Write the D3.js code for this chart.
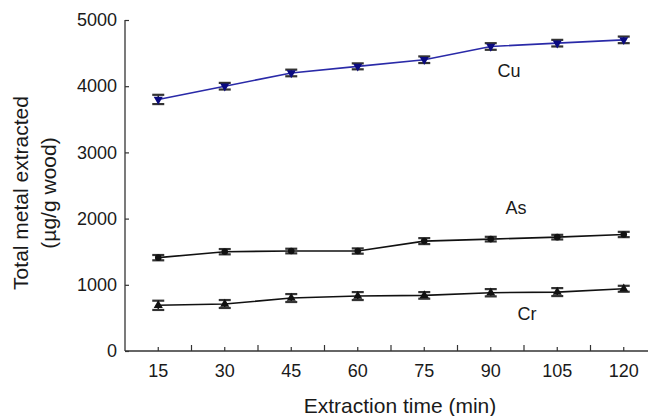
<!DOCTYPE html>
<html lang="en">
<head>
    <title>Total metal extracted</title>
    <script src="https://d3js.org/d3.v7.min.js"></script>
    <style>
        body { margin: 0; background: #fff; }
        text { font-family: Arial, "Liberation Sans", sans-serif; fill: #1a1a1a; }
    </style>
</head>
<body>
    <div id="chart"></div>

    <script>
        // Data for the chart
        const times = ["15", "30", "45", "60", "75", "90", "105", "120"];
        const cu = [3800, 4000, 4200, 4300, 4400, 4600, 4650, 4700];
        const cuErr = [70, 50, 50, 45, 50, 50, 50, 50];
        const as = [1410, 1500, 1510, 1510, 1660, 1690, 1720, 1760];
        const asErr = [40, 40, 35, 40, 45, 35, 35, 40];
        const cr = [690, 710, 800, 830, 840, 880, 890, 940];
        const crErr = [70, 60, 60, 60, 50, 55, 60, 45];
        const yTicks = [0, 1000, 2000, 3000, 4000, 5000];

        const width = 648;
        const height = 416;
        const plotLeft = 125, plotTop = 20, plotBottom = 351;

        const svg = d3.select("#chart")
            .append("svg")
            .attr("width", width)
            .attr("height", height);

        // Scales
        const x = d3.scaleBand()
            .domain(times)
            .range([plotLeft, plotLeft + 8 * 66.5])
            .padding(0);

        const y = d3.scaleLinear()
            .domain([0, 5000])
            .range([plotBottom, plotTop]);

        const cx = d => x(d) + x.bandwidth() / 2;

        // x axis: short ticks at categories, longer ticks between them
        const xAxis = svg.append("g")
            .attr("transform", `translate(0, ${plotBottom})`)
            .call(d3.axisBottom(x).tickSize(-4).tickPadding(13));
        xAxis.select(".domain").attr("d", `M${plotLeft},0H${width}`);
        xAxis.selectAll("line").attr("stroke", "#333").attr("stroke-width", 1.2);
        xAxis.selectAll("text").style("font-size", "18px").attr("dy", "0.71em").attr("fill", "#1a1a1a");
        xAxis.selectAll(".between")
            .data(times)
            .enter()
            .append("line")
            .attr("x1", d => x(d) + x.bandwidth())
            .attr("x2", d => x(d) + x.bandwidth())
            .attr("y1", 0)
            .attr("y2", -6)
            .attr("stroke", "#333")
            .attr("stroke-width", 1.2);

        // y axis
        const yAxis = svg.append("g")
            .attr("transform", `translate(${plotLeft}, 0)`)
            .call(d3.axisLeft(y).tickValues(yTicks).tickSize(-4).tickPadding(8).tickFormat(d3.format("d")));
        yAxis.select(".domain").attr("d", `M0,${plotBottom}V${plotTop}`);
        yAxis.selectAll("line").attr("stroke", "#333").attr("stroke-width", 1.2);
        yAxis.selectAll("text").style("font-size", "18px").attr("fill", "#1a1a1a");
        svg.selectAll(".domain").attr("stroke", "#333").attr("stroke-width", 1.3);

        // Axis titles
        svg.append("text")
            .attr("x", 400)
            .attr("y", 413)
            .attr("text-anchor", "middle")
            .style("font-size", "21px")
            .text("Extraction time (min)");

        const yTitle = svg.append("text")
            .attr("transform", "translate(28, 193) rotate(-90)")
            .attr("text-anchor", "middle")
            .style("font-size", "21px");
        yTitle.append("tspan").attr("x", 0).attr("y", 0).text("Total metal extracted");
        yTitle.append("tspan").attr("x", 0).attr("y", 28).text("(µg/g wood)");

        // Series
        const series = [
            { name: "Cu", values: cu, err: cuErr, line: "#2a2aa8", mark: "#0a0a80", symbol: d3.symbolTriangle, rot: 180, lx: 509, ly: 71 },
            { name: "As", values: as, err: asErr, line: "#111", mark: "#111", symbol: d3.symbolCircle, rot: 0, lx: 516, ly: 208 },
            { name: "Cr", values: cr, err: crErr, line: "#111", mark: "#111", symbol: d3.symbolTriangle, rot: 0, lx: 527, ly: 314 }
        ];

        const line = d3.line()
            .x((d, i) => cx(times[i]))
            .y(d => y(d));

        series.forEach(s => {
            const g = svg.append("g");

            g.append("path")
                .datum(s.values)
                .attr("d", line)
                .attr("fill", "none")
                .attr("stroke", s.line)
                .attr("stroke-width", 1.6);

            // Error bars
            const eb = g.selectAll(".eb")
                .data(s.values)
                .enter()
                .append("g");
            eb.append("line")
                .attr("x1", (d, i) => cx(times[i]))
                .attr("x2", (d, i) => cx(times[i]))
                .attr("y1", (d, i) => y(d + s.err[i]))
                .attr("y2", (d, i) => y(d - s.err[i]))
                .attr("stroke", "#222")
                .attr("stroke-width", 1.5);
            [1, -1].forEach(sign => {
                eb.append("line")
                    .attr("x1", (d, i) => cx(times[i]) - 6)
                    .attr("x2", (d, i) => cx(times[i]) + 6)
                    .attr("y1", (d, i) => y(d + sign * s.err[i]))
                    .attr("y2", (d, i) => y(d + sign * s.err[i]))
                    .attr("stroke", "#333")
                    .attr("stroke-width", 2.2);
            });

            // Markers
            g.selectAll(".mk")
                .data(s.values)
                .enter()
                .append("path")
                .attr("d", d3.symbol().type(s.symbol).size(s.symbol === d3.symbolCircle ? 34 : 36))
                .attr("transform", (d, i) => `translate(${cx(times[i])}, ${y(d)}) rotate(${s.rot})`)
                .attr("fill", s.mark);

            // Series label
            svg.append("text")
                .attr("x", s.lx)
                .attr("y", s.ly)
                .attr("text-anchor", "middle")
                .attr("dy", "0.35em")
                .style("font-size", "18px")
                .text(s.name);
        });
    </script>
</body>
</html>
